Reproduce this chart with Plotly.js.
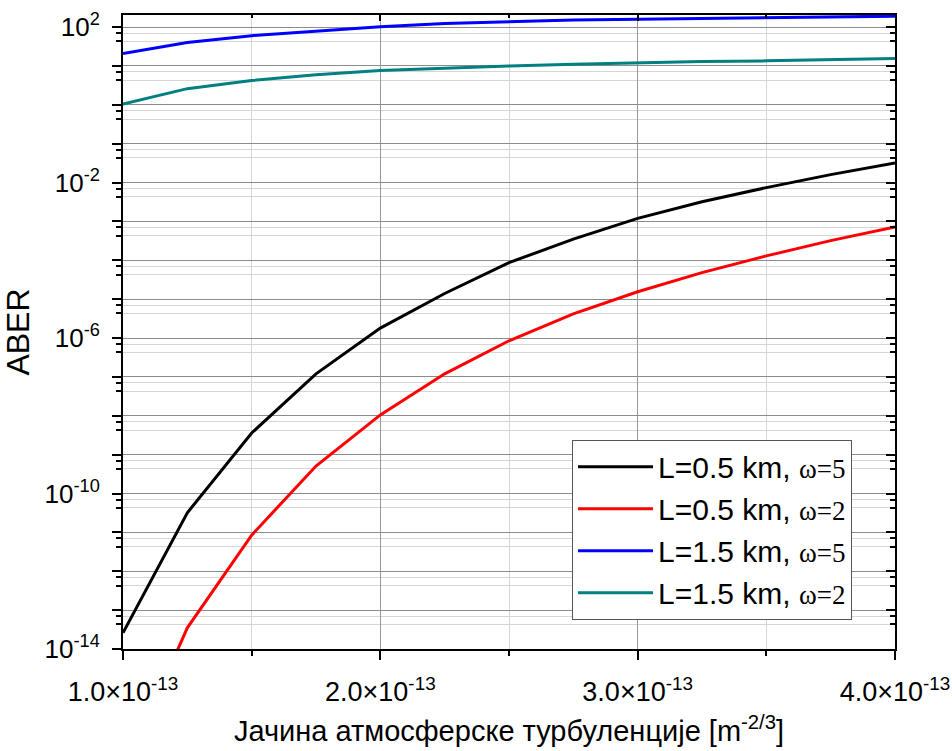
<!DOCTYPE html>
<html>
<head>
<meta charset="utf-8">
<script src="https://cdn.plot.ly/plotly-3.0.1.min.js"></script>
<style>html,body{margin:0;padding:0;background:#fff;}#chart{width:952px;height:751px;}</style>
</head>
<body>
<div id="chart"></div>
<script>
// x values (Cn^2, m^-2/3)
const xVals = [1.0e-13, 1.25e-13, 1.5e-13, 1.75e-13, 2.0e-13, 2.25e-13, 2.5e-13, 2.75e-13, 3.0e-13, 3.25e-13, 3.5e-13, 3.75e-13, 4.0e-13];
// ABER series
const aberL05w5 = [2.6e-14, 3.2e-11, 3.6e-9, 1.2e-7, 1.8e-6, 1.4e-5, 8.7e-5, 3.5e-4, 1.2e-3, 3.2e-3, 7.4e-3, 1.6e-2, 3.2e-2];
const aberL05w2 = [6.3e-18, 3.5e-14, 8.5e-12, 5.1e-10, 1.05e-8, 1.2e-7, 8.5e-7, 4.2e-6, 1.55e-5, 4.8e-5, 1.3e-4, 3.2e-4, 7.2e-4];
const aberL15w5 = [21, 40, 60, 79, 102, 123, 138, 151, 158, 166, 174, 182, 191];
const aberL15w2 = [1.05, 2.6, 4.2, 5.9, 7.6, 8.9, 10, 11, 12, 12.9, 13.5, 14.5, 15.5];
// legend names
const omegaStyle = "font-family:Liberation Serif, Times New Roman, serif;font-size:27px";
const seriesNames = [
  "L=0.5 km, <span style='" + omegaStyle + "'>ω=5</span>",
  "L=0.5 km, <span style='" + omegaStyle + "'>ω=2</span>",
  "L=1.5 km, <span style='" + omegaStyle + "'>ω=5</span>",
  "L=1.5 km, <span style='" + omegaStyle + "'>ω=2</span>"
];
const seriesColors = ['#000000', '#ff0000', '#0000ff', '#008080'];
// tick labels
const xTickVals = [1.0e-13, 2.0e-13, 3.0e-13, 4.0e-13];
const xTickText = ['1.0×10<sup>-13</sup>', '2.0×10<sup>-13</sup>', '3.0×10<sup>-13</sup>', '4.0×10<sup>-13</sup>'];
const xMinorVals = [1.5e-13, 2.5e-13, 3.5e-13];
const yDecades = [];
for (let d = -14; d <= 2; d++) yDecades.push(d);
const yTickVals = yDecades.map(d => Math.pow(10, d));
const yLabelExps = [-14, -10, -6, -2, 2];
const yLabelVals = yLabelExps.map(d => Math.pow(10, d));
const yLabelText = yLabelExps.map(d => '10<sup>' + d + '</sup>');
const yMinorVals = [];
yDecades.forEach(d => { yMinorVals.push(4.3 * Math.pow(10, d)); yMinorVals.push(7.0 * Math.pow(10, d)); });

const allSeries = [aberL05w5, aberL05w2, aberL15w5, aberL15w2];
const traces = allSeries.map((ys, i) => ({
  x: xVals, y: ys, type: 'scatter', mode: 'lines',
  name: seriesNames[i], legendgroup: 'g' + i,
  line: {color: seriesColors[i], width: 3}
}));
// empty helper traces so the overlay axes (labels, mirrored inside ticks) get drawn
[['x', 'y3'], ['x2', 'y'], ['x', 'y2']].forEach(ax => traces.push({
  x: [], y: [], type: 'scatter', mode: 'lines', xaxis: ax[0], yaxis: ax[1],
  showlegend: false, hoverinfo: 'skip'
}));

const font = 'Arial, Liberation Sans, sans-serif';
const yRange = [-14, 2.31];
const layout = {
  width: 952, height: 751,
  margin: {l: 123, r: 57, t: 15, b: 102},
  paper_bgcolor: '#fff', plot_bgcolor: '#fff',
  font: {family: font, color: '#000', size: 20},
  showlegend: true,
  legend: {
    x: 0.5816, y: 0.33, xanchor: 'left', yanchor: 'top',
    bgcolor: '#fff', bordercolor: '#555', borderwidth: 1,
    font: {family: font, size: 30, color: '#000'},
    tracegroupgap: 0, itemwidth: 75
  },
  xaxis: {
    type: 'linear', range: [1.0e-13, 4.0e-13],
    tickmode: 'array', tickvals: xTickVals, ticktext: xTickText,
    ticks: 'outside', ticklen: 9, tickwidth: 2, tickcolor: '#000',
    ticklabelstandoff: 9, ticklabeloverflow: 'allow',
    showline: true, linecolor: '#000', linewidth: 2, mirror: true,
    showgrid: true, gridcolor: '#999', gridwidth: 1,
    zeroline: false,
    tickfont: {size: 27},
    minor: {tickmode: 'array', tickvals: xMinorVals, ticks: 'outside', ticklen: 5, tickwidth: 2, tickcolor: '#000', showgrid: true, gridcolor: '#d6d6d6', gridwidth: 1},
    title: {text: 'Јачина атмосферске турбуленције [m<sup>-2/3</sup>]', font: {size: 29}, standoff: 14}
  },
  yaxis: {
    type: 'log', range: yRange,
    tickmode: 'array', tickvals: yTickVals,
    showticklabels: false,
    ticks: 'outside', ticklen: 9, tickwidth: 2, tickcolor: '#000',
    showline: true, linecolor: '#000', linewidth: 2, mirror: true,
    showgrid: true, gridcolor: '#8c8c8c', gridwidth: 1,
    zeroline: false,
    minor: {tickmode: 'array', tickvals: yMinorVals, ticks: 'outside', ticklen: 5, tickwidth: 2, tickcolor: '#000', showgrid: true, gridcolor: '#d6d6d6', gridwidth: 1}
  },
  yaxis3: {
    type: 'log', range: yRange, overlaying: 'y', side: 'left', anchor: 'x',
    tickmode: 'array', tickvals: yLabelVals, ticktext: yLabelText,
    ticks: 'outside', ticklen: 9, tickwidth: 2, tickcolor: '#000',
    ticklabelstandoff: 8,
    showgrid: false, zeroline: false, showline: false,
    tickfont: {size: 26},
    title: {text: 'ABER', font: {size: 32}, standoff: 8}
  },
  xaxis2: {
    type: 'linear', range: [1.0e-13, 4.0e-13], overlaying: 'x', side: 'top', anchor: 'y',
    tickmode: 'array', tickvals: xTickVals, ticks: 'inside', ticklen: 6, tickwidth: 2, tickcolor: '#000',
    showticklabels: false, showgrid: false, zeroline: false, showline: false,
    minor: {tickmode: 'array', tickvals: xMinorVals, ticks: 'inside', ticklen: 3, tickwidth: 2, tickcolor: '#000', showgrid: false}
  },
  yaxis2: {
    type: 'log', range: yRange, overlaying: 'y', side: 'right', anchor: 'x',
    tickmode: 'array', tickvals: yTickVals, ticks: 'inside', ticklen: 9, tickwidth: 2, tickcolor: '#000',
    showticklabels: false, showgrid: false, zeroline: false, showline: false,
    minor: {tickmode: 'array', tickvals: yMinorVals, ticks: 'inside', ticklen: 5, tickwidth: 2, tickcolor: '#000', showgrid: false}
  }
};

Plotly.newPlot('chart', traces, layout, {displayModeBar: false, staticPlot: true});
</script>
</body>
</html>
